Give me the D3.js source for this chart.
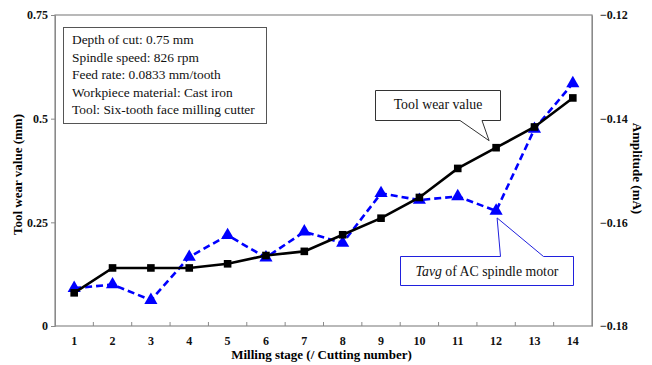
<!DOCTYPE html>
<html>
<head>
<meta charset="utf-8">
<script src="https://cdn.jsdelivr.net/npm/d3@7"></script>
<style>
  html, body { margin: 0; padding: 0; background: #fff; }
  svg { display: block; }
  svg text { font-family: "Liberation Serif", "Times New Roman", Tinos, "DejaVu Serif", serif; }
</style>
</head>
<body>
<svg id="chart" width="652" height="365"></svg>
<script>
// Milling stages (cutting number)
const stages = [1, 2, 3, 4, 5, 6, 7, 8, 9, 10, 11, 12, 13, 14];
// Measured tool wear (mm)
const toolWear = [0.08, 0.14, 0.14, 0.14, 0.15, 0.17, 0.18, 0.22, 0.26, 0.31, 0.38, 0.43, 0.48, 0.55];
// Tavg amplitude of the AC spindle motor current (mA)
const amplitude = [-0.1727, -0.1720, -0.1750, -0.1667, -0.1625, -0.1668, -0.1618, -0.1640,
                   -0.1544, -0.1557, -0.1550, -0.1578, -0.1420, -0.1332];
const leftTicks = [0, 0.25, 0.5, 0.75];
const rightTicks = [-0.18, -0.16, -0.14, -0.12];
const infoLines = [
  "Depth of cut: 0.75 mm",
  "Spindle speed: 826 rpm",
  "Feed rate: 0.0833 mm/tooth",
  "Workpiece material: Cast iron",
  "Tool: Six-tooth face milling cutter"
];

const svg = d3.select("#chart");
const m = { left: 55, right: 60, top: 15, bottom: 39 };
const W = 652, H = 365;
const x0 = m.left, x1 = W - m.right, y0 = H - m.bottom, y1 = m.top;

const x = d3.scaleBand().domain(stages).range([x0, x1]);
const yL = d3.scaleLinear().domain([0, 0.75]).range([y0, y1]);
const yR = d3.scaleLinear().domain([-0.18, -0.12]).range([y0, y1]);
const cx = d => x(d) + x.bandwidth() / 2;

const frame = "#8a8a8a";

// Plot frame
svg.append("rect")
  .attr("x", x0).attr("y", y1).attr("width", x1 - x0).attr("height", y0 - y1)
  .attr("fill", "none").attr("stroke", frame).attr("stroke-width", 1.2);

// Left axis
const gL = svg.append("g").attr("transform", `translate(${x0},0)`)
  .call(d3.axisLeft(yL).tickValues(leftTicks).tickSize(4).tickPadding(3)
    .tickFormat(d => d === 0 ? "0" : String(d)));
// Right axis
const gR = svg.append("g").attr("transform", `translate(${x1},0)`)
  .call(d3.axisRight(yR).tickValues(rightTicks).tickSize(0).tickPadding(8)
    .tickFormat(d3.format(".2f")));
// Bottom axis: labels at band centres, ticks on band boundaries pointing inward
const gB = svg.append("g").attr("transform", `translate(0,${y0})`)
  .call(d3.axisBottom(x).tickSize(0).tickPadding(10));
svg.append("g").selectAll("line")
  .data(stages.slice(1))
  .join("line")
  .attr("x1", d => x(d)).attr("x2", d => x(d))
  .attr("y1", y0).attr("y2", y0 - 4)
  .attr("stroke", frame).attr("stroke-width", 1);

[gL, gR, gB].forEach(g => {
  g.attr("font-family", null);
  g.select(".domain").attr("stroke", frame);
  g.selectAll(".tick line").attr("stroke", frame);
  g.selectAll("text")
    .attr("font-size", 12).attr("font-weight", "bold").attr("fill", "#111");
});
gB.select(".domain").remove();

// Axis titles
svg.append("text")
  .attr("transform", `translate(22,${(y0 + y1) / 2 + 4}) rotate(-90)`)
  .attr("text-anchor", "middle").attr("font-size", 13).attr("font-weight", "bold")
  .text("Tool wear value (mm)");
svg.append("text")
  .attr("transform", `translate(633,${(y0 + y1) / 2 - 2}) rotate(90)`)
  .attr("text-anchor", "middle").attr("font-size", 13).attr("font-weight", "bold")
  .text("Amplitude (mA)");
svg.append("text")
  .attr("x", (x0 + x1) / 2 - 2).attr("y", 359)
  .attr("text-anchor", "middle").attr("font-size", 13).attr("font-weight", "bold")
  .text("Milling stage (/ Cutting number)");

// Amplitude series (blue dashed with triangles)
const ampLine = d3.line().x((d, i) => cx(stages[i])).y(d => yR(d));
svg.append("path").datum(amplitude)
  .attr("d", ampLine).attr("fill", "none")
  .attr("stroke", "#0000ff").attr("stroke-width", 2.6).attr("stroke-dasharray", "7,4");
svg.append("g").selectAll("path")
  .data(amplitude)
  .join("path")
  .attr("d", d3.symbol().type(d3.symbolTriangle).size(75))
  .attr("transform", (d, i) => `translate(${cx(stages[i])},${yR(d)})`)
  .attr("fill", "#0000ff");

// Tool wear series (black solid with squares)
const wearLine = d3.line().x((d, i) => cx(stages[i])).y(d => yL(d));
svg.append("path").datum(toolWear)
  .attr("d", wearLine).attr("fill", "none")
  .attr("stroke", "#000").attr("stroke-width", 2.6);
svg.append("g").selectAll("rect")
  .data(toolWear)
  .join("rect")
  .attr("x", (d, i) => cx(stages[i]) - 3.8).attr("y", d => yL(d) - 3.8)
  .attr("width", 7.6).attr("height", 7.6)
  .attr("fill", "#000");

// Cutting-condition box
svg.append("rect")
  .attr("x", 63.5).attr("y", 27.5).attr("width", 203).attr("height", 96)
  .attr("fill", "#fff").attr("stroke", "#555").attr("stroke-width", 1);
svg.append("g").selectAll("text")
  .data(infoLines)
  .join("text")
  .attr("x", 72).attr("y", (d, i) => 44 + i * 17.6)
  .attr("font-size", 13.4).attr("fill", "#111")
  .text(d => d);

// Callout: tool wear value
const tipW = [cx(12) - 7, yL(0.43) - 7];
svg.append("path")
  .attr("d", `M375.5,90.5 H500.5 V120.5 H482 L${tipW[0]},${tipW[1]} L460,120.5 H375.5 Z`)
  .attr("fill", "#fff").attr("stroke", "#333").attr("stroke-width", 1);
svg.append("text")
  .attr("x", 438).attr("y", 109).attr("text-anchor", "middle")
  .attr("font-size", 13.8).attr("fill", "#111")
  .text("Tool wear value");

// Callout: Tavg of AC spindle motor
const tipA = [cx(12) + 1, yR(-0.1578) + 7];
svg.append("path")
  .attr("d", `M400.5,256.5 H500.5 L${tipA[0]},${tipA[1]} L543.5,256.5 H573.5 V285.5 H400.5 Z`)
  .attr("fill", "#fff").attr("stroke", "#2020dd").attr("stroke-width", 1);
const t = svg.append("text")
  .attr("x", 487).attr("y", 276).attr("text-anchor", "middle")
  .attr("font-size", 13.8).attr("fill", "#111");
t.append("tspan").attr("font-style", "italic").text("Tavg");
t.append("tspan").text(" of AC spindle motor");
</script>
</body>
</html>
